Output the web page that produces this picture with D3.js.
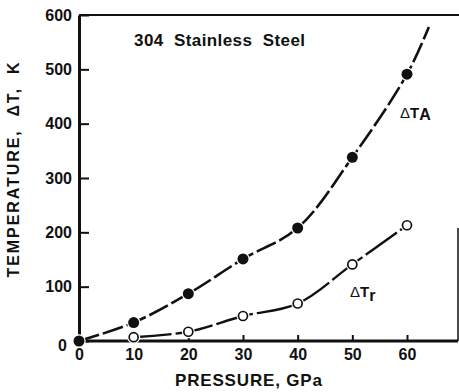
<!DOCTYPE html>
<html>
<head>
<meta charset="utf-8">
<script src="https://cdn.jsdelivr.net/npm/d3@7"></script>
<style>
  body { margin: 0; background: #fff; }
  svg { font-family: "Liberation Sans", Arial, sans-serif; font-weight: bold; }
</style>
</head>
<body>
<svg id="chart" width="459" height="392"></svg>
<script>
// values
let pressure = [0, 10, 20, 30, 40, 50, 60];
let deltaTA = [0, 34, 87, 151, 208, 338, 491];
let pressureR = [10, 20, 30, 40, 50, 60];
let deltaTr = [7, 17, 46, 69, 141, 213];
// where the fitted A curve leaves the top of the plot
let curveEndA = [[64, 578]];
let xTicks = [0, 10, 20, 30, 40, 50, 60];
let yTicks = [0, 100, 200, 300, 400, 500, 600];

let svg = d3.select("#chart");

let x = d3.scaleLinear().domain([0, 60]).range([79, 407]);
let y = d3.scaleLinear().domain([0, 600]).range([341, 15]);

// frame: top line and part of the right edge
svg.append("line")
    .attr("x1", 79).attr("x2", 459)
    .attr("y1", y(600)).attr("y2", y(600))
    .attr("stroke", "#111").attr("stroke-width", 2);
svg.append("line")
    .attr("x1", 458).attr("x2", 458)
    .attr("y1", 228).attr("y2", y(0))
    .attr("stroke", "#111").attr("stroke-width", 1.5);

// y axis, ticks pointing into the plot
let yAxis = svg.append("g")
    .attr("transform", "translate(79,0)")
    .call(d3.axisLeft(y).tickValues(yTicks).tickSize(-10).tickPadding(7).tickSizeOuter(0));
yAxis.select(".domain").attr("stroke", "#111").attr("stroke-width", 3);
yAxis.selectAll(".tick line").attr("stroke", "#111").attr("stroke-width", 2);
yAxis.selectAll(".tick text").attr("font-size", 16).attr("font-family", "Liberation Sans").attr("font-weight", "bold").attr("fill", "#111");
yAxis.selectAll(".tick").filter(d => d === 0).select("text").attr("dy", "0.62em").attr("x", -12);

// x axis, ticks pointing up
let xAxis = svg.append("g")
    .attr("transform", "translate(0," + y(0) + ")")
    .call(d3.axisBottom(x).tickValues(xTicks).tickSize(-6).tickPadding(8).tickSizeOuter(0));
xAxis.select(".domain").attr("d", "M79,0H458").attr("stroke", "#111").attr("stroke-width", 3);
xAxis.selectAll(".tick line").attr("stroke", "#111").attr("stroke-width", 2);
xAxis.selectAll(".tick text").attr("font-size", 16).attr("font-family", "Liberation Sans").attr("font-weight", "bold").attr("fill", "#111");

// curves
let line = d3.line()
    .x(d => x(d[0]))
    .y(d => y(d[1]))
    .curve(d3.curveCatmullRom.alpha(0.5));

let ptsA = pressure.map((p, i) => [p, deltaTA[i]]);
let ptsR = pressureR.map((p, i) => [p, deltaTr[i]]);

svg.append("path")
    .attr("d", line(ptsA.concat(curveEndA)))
    .attr("fill", "none")
    .attr("stroke", "#111")
    .attr("stroke-width", 2.6)
    .attr("stroke-dasharray", "21,4");

svg.append("path")
    .attr("d", line(ptsR))
    .attr("fill", "none")
    .attr("stroke", "#111")
    .attr("stroke-width", 2.4)
    .attr("stroke-dasharray", "38,4");

// markers, with a white ring so the line breaks around them
svg.append("g").selectAll("circle")
    .data(ptsA)
    .enter().append("circle")
    .attr("cx", d => x(d[0]))
    .attr("cy", d => y(d[1]))
    .attr("r", 5.5)
    .attr("fill", "#111")
    .attr("stroke", "#fff")
    .attr("stroke-width", 2.5)
    .attr("paint-order", "stroke");

svg.append("g").selectAll("circle")
    .data(ptsR)
    .enter().append("circle")
    .attr("cx", d => x(d[0]))
    .attr("cy", d => y(d[1]))
    .attr("r", 6.5)
    .attr("fill", "#fff");

svg.append("g").selectAll("circle")
    .data(ptsR)
    .enter().append("circle")
    .attr("cx", d => x(d[0]))
    .attr("cy", d => y(d[1]))
    .attr("r", 4.5)
    .attr("fill", "#fff")
    .attr("stroke", "#111")
    .attr("stroke-width", 1.7);

// labels
svg.append("text")
    .attr("x", 134).attr("y", 46)
    .attr("font-size", 17)
    .attr("fill", "#111")
    .attr("textLength", 171)
    .attr("xml:space", "preserve")
    .text("304  Stainless  Steel");

let la = svg.append("text").attr("x", 400).attr("y", 118).attr("font-size", 15).attr("fill", "#111");
la.append("tspan").attr("font-weight", "normal").text("Δ");
la.append("tspan").text("T");
la.append("tspan").attr("dy", 2).attr("font-size", 16).text("A");

let lr = svg.append("text").attr("x", 350).attr("y", 297).attr("font-size", 15).attr("fill", "#111");
lr.append("tspan").attr("font-weight", "normal").text("Δ");
lr.append("tspan").text("T");
lr.append("tspan").attr("dy", 4).attr("font-size", 16).text("r");

svg.append("text")
    .attr("x", 175).attr("y", 386)
    .attr("font-size", 17)
    .attr("fill", "#111")
    .attr("textLength", 147)
    .text("PRESSURE, GPa");

svg.append("text")
    .attr("transform", "translate(19,170) rotate(-90)")
    .attr("text-anchor", "middle")
    .attr("font-size", 16)
    .attr("fill", "#111")
    .attr("textLength", 215)
    .attr("xml:space", "preserve")
    .text("TEMPERATURE,  ΔT,  K");
</script>
</body>
</html>
